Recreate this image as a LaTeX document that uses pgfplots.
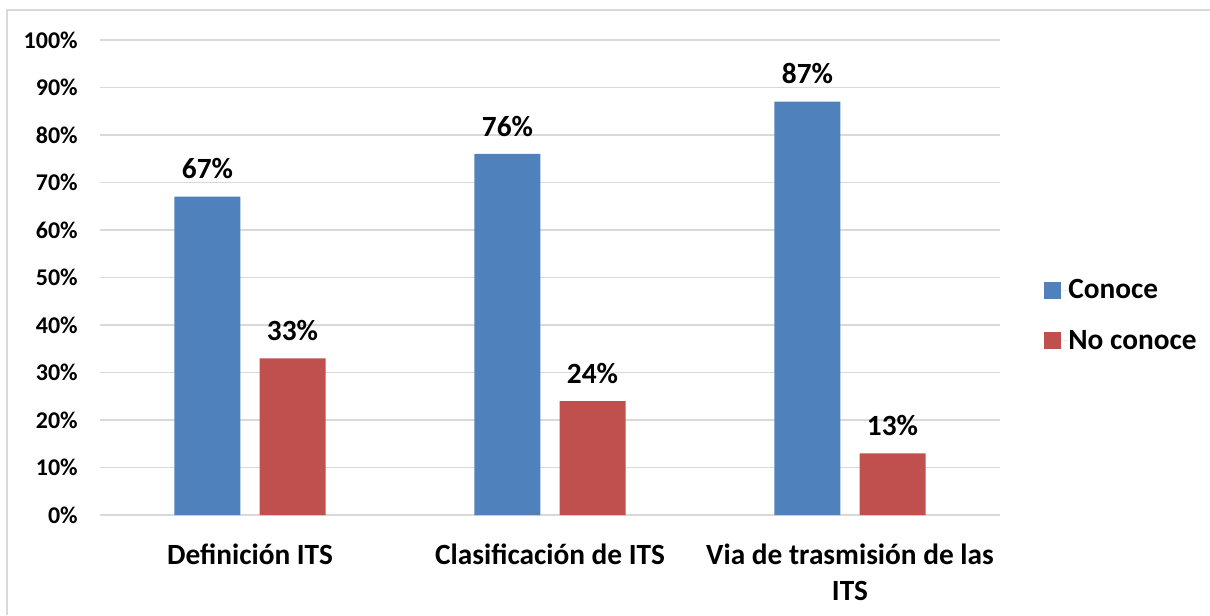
\documentclass[border=0pt]{standalone}
\usepackage{pgfplots}
\pgfplotsset{compat=1.18}
\usepackage{fontspec}
\setmainfont{Carlito}
\definecolor{cblue}{HTML}{4F81BD}
\definecolor{cred}{HTML}{C0504D}
\definecolor{cgrid}{HTML}{D9D9D9}
\begin{document}
\begin{tikzpicture}
\useasboundingbox (0,0) rectangle (907.5pt,461.25pt);
\draw[cgrid, line width=1pt] (5.25pt,0pt) -- (5.25pt,453.75pt) -- (907.5pt,453.75pt);
\begin{axis}[
  at={(75pt,75pt)}, anchor=south west,
  width=675pt, height=356.25pt, scale only axis,
  xmin=-0.5, xmax=2.5, ymin=0, ymax=100,
  ybar, bar width=49.5pt,
  axis line style={draw=none},
  major tick style={draw=none},
  ymajorgrids, grid style={cgrid, line width=1.1pt},
  ytick={0,10,...,100},
  yticklabel={\pgfmathprintnumber{\tick}\%},
  /pgf/number format/assume math mode=true,
  yticklabel style={font=\bfseries\fontsize{18}{21}\selectfont, anchor=east, inner sep=0pt, xshift=-16.5pt},
  xtick={0,1,2},
  xticklabels={Definición ITS, Clasificación de ITS, {Via de trasmisión de las\\ITS}},
  xticklabel style={font=\bfseries\fontsize{22}{27}\selectfont, align=center, anchor=north, inner sep=0pt, yshift=-17pt},
  nodes near coords={\pgfmathprintnumber{\pgfplotspointmeta}\%},
  every node near coord/.append style={font=\bfseries\fontsize{22}{26}\selectfont, text=black, anchor=south, inner sep=0pt, yshift=13pt},
  legend style={at={(rel axis cs:1.049,0.42)}, anchor=west, draw=none, inner sep=0pt,
    font=\bfseries\fontsize{22}{26}\selectfont, row sep=22pt,
    nodes={inner sep=0pt, anchor=west}},
  legend cell align=left,
]
\addplot[fill=cblue, draw=none, bar shift=-31.9pt,
  legend image code/.code={\fill[cblue] (0pt,-6.4pt) rectangle (12.75pt,6.4pt); \path (12.75pt,0) -- (18pt,0);}]
  coordinates {(0,67) (1,76) (2,87)};
\addplot[fill=cred, draw=none, bar shift=31.9pt,
  legend image code/.code={\fill[cred] (0pt,-6.4pt) rectangle (12.75pt,6.4pt); \path (12.75pt,0) -- (18pt,0);}]
  coordinates {(0,33) (1,24) (2,13)};
\legend{Conoce, No conoce}
\end{axis}
\end{tikzpicture}
\end{document}
